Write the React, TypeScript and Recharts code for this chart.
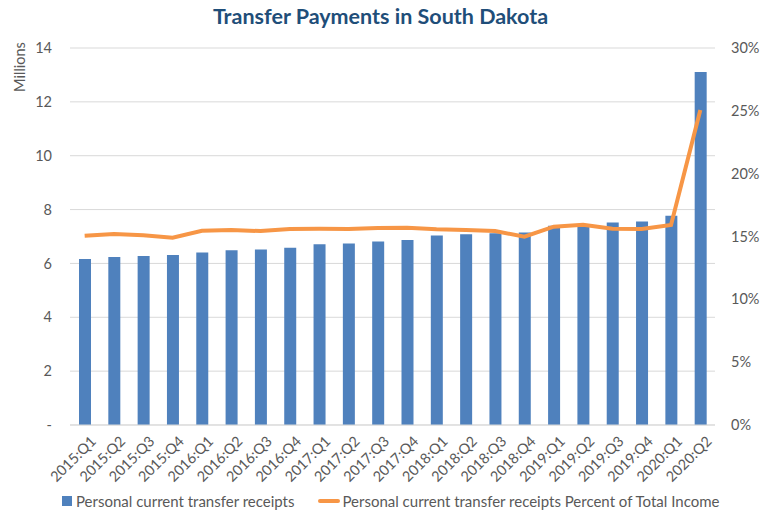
import { ComposedChart, Bar, Line, XAxis, YAxis, CartesianGrid, Legend } from "recharts";

const quarters = [
  "2015:Q1", "2015:Q2", "2015:Q3", "2015:Q4",
  "2016:Q1", "2016:Q2", "2016:Q3", "2016:Q4",
  "2017:Q1", "2017:Q2", "2017:Q3", "2017:Q4",
  "2018:Q1", "2018:Q2", "2018:Q3", "2018:Q4",
  "2019:Q1", "2019:Q2", "2019:Q3", "2019:Q4",
  "2020:Q1", "2020:Q2",
];

// millions of dollars
const receipts = [
  6.16, 6.24, 6.28, 6.31, 6.41, 6.49, 6.52, 6.58, 6.71, 6.74, 6.81,
  6.87, 7.04, 7.08, 7.12, 7.15, 7.40, 7.46, 7.52, 7.56, 7.77, 13.11,
];

// share of total income
const percentOfIncome = [
  0.1506, 0.152, 0.1509, 0.149, 0.1546, 0.1551, 0.1543, 0.1559, 0.1562, 0.156, 0.1567,
  0.157, 0.1557, 0.1551, 0.1543, 0.1498, 0.1578, 0.1594, 0.1562, 0.156, 0.1591, 0.2506,
];

const leftTicks = [0, 2, 4, 6, 8, 10, 12, 14];
const rightTicks = [0, 0.05, 0.1, 0.15, 0.2, 0.25, 0.3];

const data = quarters.map((q, i) => ({
  quarter: q,
  receipts: receipts[i],
  percent: percentOfIncome[i],
}));

const FONT = "Lato, 'Open Sans', sans-serif";
const BLUE = "#4f81bd";
const ORANGE = "#f79646";
const GREY = "#595959";

function LegendBox() {
  return (
    <div style={{ display: "flex", alignItems: "center", fontFamily: FONT, fontSize: 15, color: GREY, paddingLeft: 62 }}>
      <span style={{ width: 10, height: 10, background: BLUE, display: "inline-block", marginRight: 4 }} />
      <span>Personal current transfer receipts</span>
      <span style={{ width: 22, height: 4, background: ORANGE, display: "inline-block", marginLeft: 24, marginRight: 2, borderRadius: 2 }} />
      <span>Personal current transfer receipts Percent of Total Income</span>
    </div>
  );
}

export default function App() {
  return (
    <div style={{ position: "absolute", left: 0, top: 0, width: 761, height: 522, background: "#fff" }}>
      <div
        style={{
          position: "absolute",
          top: 3,
          left: 0,
          width: 761,
          textAlign: "center",
          fontFamily: FONT,
          fontWeight: 700,
          fontSize: 21.5,
          color: "#1f4e79",
        }}
      >
        Transfer Payments in South Dakota
      </div>
      <ComposedChart
        width={761}
        height={522}
        data={data}
        margin={{ top: 48, right: 0, left: 0, bottom: 0 }}
      >
        <CartesianGrid yAxisId="left" stroke="#d9d9d9" vertical={false} />
        <XAxis
          dataKey="quarter"
          interval={0}
          height={67}
          axisLine={{ stroke: "#d9d9d9" }}
          tickLine={false}
          tick={{ fill: GREY, fontSize: 14.5, fontFamily: FONT, angle: -45, textAnchor: "end", dx: 5, dy: 2 }}
        />
        <YAxis
          yAxisId="left"
          width={70}
          domain={[0, 14]}
          ticks={leftTicks}
          axisLine={false}
          tickLine={false}
          tickMargin={12}
          tick={{ fill: GREY, fontSize: 14.5, fontFamily: FONT }}
          tickFormatter={(v: number) => (v === 0 ? "-" : String(v))}
          label={{
            content: () => (
              <text
                transform="translate(25,67) rotate(-90)"
                textAnchor="middle"
                fill={GREY}
                fontSize={14.5}
                fontFamily={FONT}
              >
                Millions
              </text>
            ),
          }}
        />
        <YAxis
          yAxisId="right"
          orientation="right"
          width={46}
          domain={[0, 0.3]}
          ticks={rightTicks}
          axisLine={false}
          tickLine={false}
          tickMargin={10}
          tick={{ fill: GREY, fontSize: 14.5, fontFamily: FONT }}
          tickFormatter={(v: number) => `${Math.round(v * 100)}%`}
        />
        <Legend verticalAlign="bottom" height={30} content={() => <LegendBox />} />
        <Bar yAxisId="left" dataKey="receipts" fill={BLUE} barSize={12} isAnimationActive={false} />
        <Line
          yAxisId="right"
          dataKey="percent"
          stroke={ORANGE}
          strokeWidth={4}
          dot={false}
          activeDot={false}
          isAnimationActive={false}
        />
      </ComposedChart>
    </div>
  );
}
